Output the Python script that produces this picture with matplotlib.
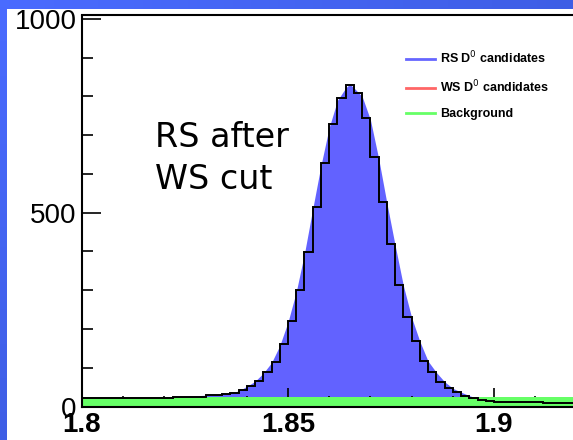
import matplotlib.pyplot as plt
import numpy as np
from matplotlib.lines import Line2D
from matplotlib.ticker import MultipleLocator

# --- data ---
# data histogram (black steps), 0.002 GeV bins from 1.80 to 1.92
bin_lo, bin_hi, bin_w = 1.80, 1.92, 0.002
rs_counts = [22] * 11 + [25] * 4 + [29] * 2 + [
    32, 35, 42, 54, 67, 88, 115, 160, 221, 300, 399, 516, 628, 728, 797, 829,
    808, 744, 644, 528, 419, 313, 230, 168, 117, 88, 64, 47, 37, 28, 21, 17, 14, 12,
] + [11] * 5 + [8] * 4

# RS D0 candidates (blue filled shape)
rs_shape_x = [1.800, 1.810, 1.820, 1.824, 1.830, 1.834, 1.836, 1.838, 1.840, 1.842,
              1.844, 1.846, 1.848, 1.850, 1.852, 1.854, 1.856, 1.858, 1.860, 1.862,
              1.864, 1.865, 1.866, 1.868, 1.870, 1.872, 1.874, 1.876, 1.878, 1.880,
              1.882, 1.884, 1.886, 1.888, 1.890, 1.892, 1.894, 1.896, 1.898, 1.900,
              1.904, 1.912, 1.920]
rs_shape_y = [24, 24, 24, 26, 29, 32, 35, 40, 52, 65,
              86, 113, 157, 218, 296, 395, 510, 622, 720, 790,
              822, 832, 822, 800, 740, 640, 525, 416, 312, 230,
              168, 117, 88, 64, 47, 37, 28, 21, 17, 14,
              13, 11, 9]

# WS D0 candidates (mostly hidden under the background)
ws_x = [1.80, 1.86, 1.87, 1.92]
ws_y = [3, 5, 4, 3]

# background level (green band)
bkg_x = [1.80, 1.92]
bkg_y = [25, 25]

# --- figure ---
W, H = 573, 440
fig = plt.figure(figsize=(W / 100, H / 100), dpi=100)

# slide background: blue gradient frame with white panel
bg = fig.add_axes([0, 0, 1, 1], zorder=-10)
gx, gy = np.meshgrid(np.linspace(0, 1, 64), np.linspace(0, 1, 64))
t = 0.5 * (gx + gy)
c0 = np.array([0.29, 0.42, 1.0])
c1 = np.array([0.20, 0.32, 0.80])
grad = c0[None, None, :] * (1 - t[..., None]) + c1[None, None, :] * t[..., None]
bg.imshow(grad, extent=[0, W, H, 0], aspect='auto')
bg.add_patch(plt.Rectangle((7, 9), W, H, color='white', lw=0))
bg.set_xlim(0, W)
bg.set_ylim(H, 0)
bg.axis('off')

ax = fig.add_axes([82 / W, 33.5 / H, 494.4 / W, 391 / H])
ax.set_facecolor('white')

edges = bin_lo + bin_w * np.arange(len(rs_counts) + 1)

ax.fill_between(rs_shape_x, rs_shape_y, color='#6262ff', lw=0, zorder=1)
ax.plot(ws_x, ws_y, color='#ff6060', lw=1, zorder=1.5, drawstyle='steps-mid')
ax.fill_between(bkg_x, bkg_y, color='#66ff66', lw=0, zorder=2)
ax.stairs(rs_counts, edges, color='black', lw=1.4, zorder=3, baseline=None)

ax.set_xlim(bin_lo, bin_hi)
ax.set_ylim(0, 1009)

for s in ['left', 'top', 'bottom']:
    ax.spines[s].set_linewidth(1.5)
ax.spines['right'].set_visible(False)

ax.set_xticks([1.8, 1.85, 1.9])
ax.set_xticklabels(['1.8', '1.85', '1.9'], fontweight='bold')
ax.xaxis.set_minor_locator(MultipleLocator(0.01))
ax.set_yticks([0, 500, 1000])
ax.set_yticklabels(['0', '500', '1000'])
ax.yaxis.set_minor_locator(MultipleLocator(100))
ax.tick_params(which='major', direction='in', length=14, width=1.2, labelsize=20, pad=4)
ax.tick_params(which='minor', direction='in', length=8, width=1.2)
for lab in ax.get_xticklabels() + ax.get_yticklabels():
    lab.set_family('Liberation Sans')

fig.text(155 / W, 1 - 121 / H, "RS after\nWS cut", va='top', ha='left',
         fontsize=24, family='DejaVu Sans', linespacing=1.35)

handles = [Line2D([], [], color='#6666ff', lw=2),
           Line2D([], [], color='#ff6666', lw=2),
           Line2D([], [], color='#66ff66', lw=2)]
labels = ['RS D$^{0}$ candidates', 'WS D$^{0}$ candidates', 'Background']
fig.legend(handles, labels, loc='upper left', bbox_to_anchor=(406 / W, 1 - 50 / H),
           frameon=False, prop=dict(family='Liberation Sans', weight='bold', size=9),
           handlelength=2.3, handletextpad=0.45, labelspacing=1.0,
           borderpad=0, borderaxespad=0)

fig.savefig('out.png', dpi=100)
